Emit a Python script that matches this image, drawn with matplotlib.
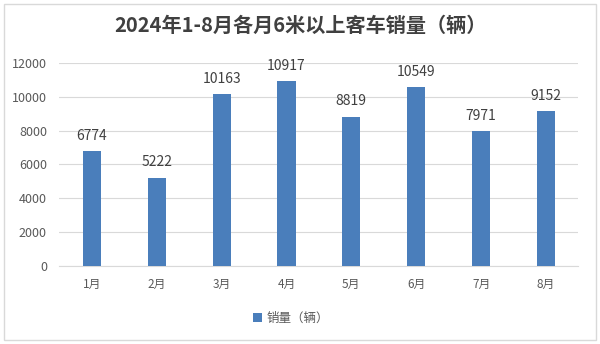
import matplotlib
matplotlib.use('Agg')
from matplotlib import pyplot as plt
from matplotlib.patches import Rectangle

plt.rcParams['font.family'] = ['Noto Sans CJK SC', 'DejaVu Sans']

months = ['1月', '2月', '3月', '4月', '5月', '6月', '7月', '8月']
sales = [6774, 5222, 10163, 10917, 8819, 10549, 7971, 9152]
yticks = [0, 2000, 4000, 6000, 8000, 10000, 12000]

bar_color = '#4A7EBB'
text_color = '#595959'

fig = plt.figure(figsize=(6, 3.44), dpi=100)
fig.patches.append(Rectangle((0.007, 0.012), 0.986, 0.976, transform=fig.transFigure,
                             fill=False, edgecolor='#D9D9D9', linewidth=1))

ax = fig.add_axes([0.099, 0.227, 0.865, 0.590])
x = list(range(len(months)))
bars = ax.bar(x, sales, width=0.28, color=bar_color, label='销量（辆）', zorder=3)

for xi, v in zip(x, sales):
    ax.text(xi, v + 500, str(v), ha='center', va='bottom', fontsize=10, color='#404040')

ax.set_xlim(-0.5, len(months) - 0.5)
ax.set_ylim(0, 12000)
ax.set_yticks(yticks)
ax.set_xticks(x)
ax.set_xticklabels(months)
ax.tick_params(axis='x', length=0, labelsize=8.5, colors=text_color, pad=9)
ax.tick_params(axis='y', length=0, labelsize=9, colors=text_color, pad=9)
ax.grid(axis='y', color='#D9D9D9', linewidth=0.8, zorder=0)
for s in ['top', 'right', 'left']:
    ax.spines[s].set_visible(False)
ax.spines['bottom'].set_color('#D9D9D9')

fig.text(0.5, 0.925, '2024年1-8月各月6米以上客车销量（辆）', ha='center', va='center',
         fontsize=14.5, fontweight='bold', color='#404040')

fig.legend(loc='center', bbox_to_anchor=(0.485, 0.075), frameon=False, fontsize=9,
           handlelength=0.7, handleheight=0.7, handletextpad=0.4, labelcolor=text_color)

fig.savefig('out.png', dpi=100)
